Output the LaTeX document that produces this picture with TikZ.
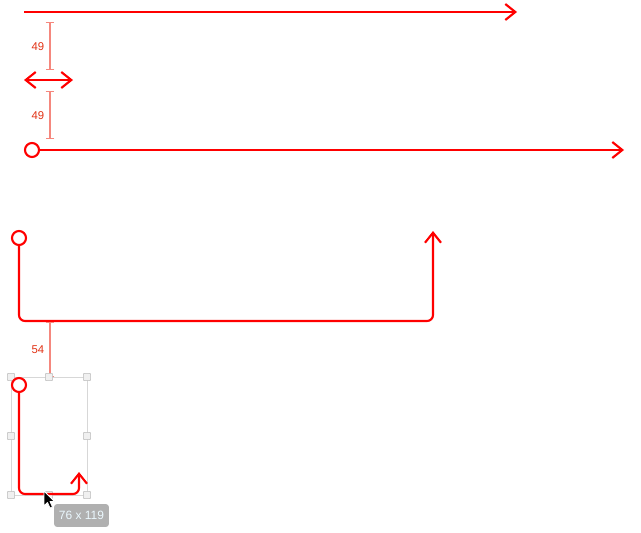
\documentclass[tikz,border=0pt]{standalone}
\usepackage{fontspec}
\setmainfont{Liberation Sans}
\usetikzlibrary{arrows.meta}
\definecolor{linkred}{RGB}{255,0,0}
\definecolor{dimred}{RGB}{245,135,125}
\definecolor{dimtext}{RGB}{225,50,20}
\definecolor{framegray}{RGB}{215,215,215}
\definecolor{handlegray}{RGB}{185,185,185}
\definecolor{tipgray}{RGB}{176,176,176}
\begin{document}
\begin{tikzpicture}[x=0.75pt,y=-0.75pt,
    link/.style={draw=linkred,line width=1.6pt,rounded corners=4.5pt},
    headtip/.style={-{Straight Barb[length=7.5pt,width=12pt]}},
    bothtip/.style={{Straight Barb[length=7.5pt,width=12pt]}-{Straight Barb[length=7.5pt,width=12pt]}},
    startdot/.style={circle,draw=linkred,line width=1.6pt,fill=white,minimum size=10.5pt,inner sep=0pt},
    dimline/.style={draw=dimred,line width=0.9pt,{Bar[width=6.5pt]}-{Bar[width=6.5pt]}},
    dimlabel/.style={text=dimtext,font=\fontsize{8.5}{10}\selectfont},
    handle/.style={rectangle,draw=handlegray,fill=gray!12,minimum size=5.5pt,inner sep=0pt,rounded corners=0.6pt},
    tiplabel/.style={fill=tipgray,rounded corners=2pt,minimum width=41pt,minimum height=17pt,
        text=white!92!cyan,font=\fontsize{9}{10}\selectfont}]
    \useasboundingbox (0,0) rectangle (641,532);
    % straight arrows
    \coordinate (a1) at (24,12);
    \coordinate (b1) at (517,12);
    \draw [link,headtip] (a1) -- (b1);
    \coordinate (a2) at (24,80);
    \coordinate (b2) at (73,80);
    \draw [link,bothtip] (a2) -- (b2);
    \node [startdot] (s3) at (32,150) {};
    \coordinate (b3) at (624,150);
    \draw [link,headtip] (s3) -- (b3);
    % spacing marks
    \coordinate (d1) at (50,22);
    \coordinate (e1) at (50,70);
    \draw [dimline] (d1) -- (e1);
    \node [dimlabel] (l1) at (38,47) {49};
    \coordinate (d2) at (50,91);
    \coordinate (e2) at (50,139);
    \draw [dimline] (d2) -- (e2);
    \node [dimlabel] (l2) at (38,116) {49};
    % elbow connector
    \node [startdot] (s4) at (19,238) {};
    \coordinate (b4) at (433,231);
    \draw [link,headtip] (s4) |- (433,321) -- (b4);
    \coordinate (d3) at (50,322);
    \coordinate (e3) at (50,377);
    \draw [dimline] (d3) -- (e3);
    \node [dimlabel] (l3) at (38,350) {54};
    % selected connector
    \draw [framegray,line width=0.5pt] (11,377) rectangle (87,495);
    \foreach \hx/\hy in {11/377,49/377,87/377,11/436,87/436,11/495,49/495,87/495}
        \node [handle] at (\hx,\hy) {};
    \node [startdot] (s5) at (19,385) {};
    \coordinate (b5) at (79,472);
    \draw [link,headtip] (s5) |- (79,494) -- (b5);
    \node [tiplabel] (size) at (81.5,515.5) {76 x 119};
    % pointer
    \draw [white,fill=black,line width=0.6pt,line join=round]
        (44,491) -- (44,506) -- (47.5,502.5) -- (50,508) -- (52.5,507) -- (50,501.5) -- (54.5,501.5) -- cycle;
\end{tikzpicture}
\end{document}
